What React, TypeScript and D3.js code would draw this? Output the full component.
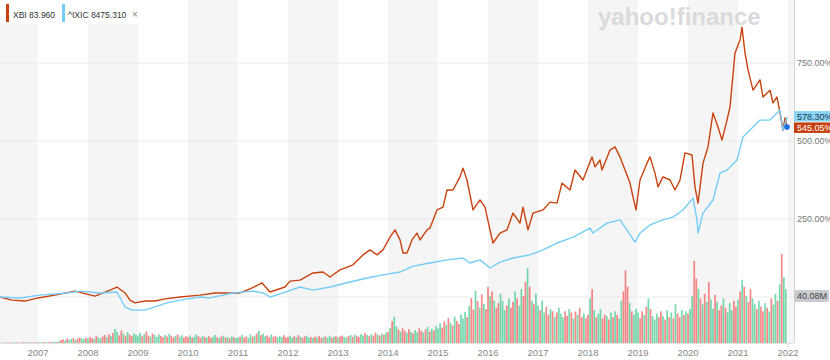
import React from 'react';
import * as d3 from 'd3';

// ---- Data ----
const xbiYears = [2006.24,2006.48,2006.74,2007.00,2007.34,2007.74,2008.14,2008.44,2008.58,2008.74,2008.84,2008.94,2009.14,2009.34,2009.54,2009.84,2010.24,2010.54,2011.04,2011.24,2011.48,2011.64,2011.94,2012.04,2012.24,2012.50,2012.70,2012.84,2013.04,2013.30,2013.50,2013.64,2013.78,2013.90,2014.04,2014.14,2014.24,2014.30,2014.38,2014.48,2014.58,2014.64,2014.78,2014.84,2014.98,2015.10,2015.18,2015.30,2015.44,2015.50,2015.58,2015.70,2015.84,2015.94,2016.04,2016.10,2016.24,2016.38,2016.50,2016.64,2016.70,2016.80,2016.90,2017.10,2017.24,2017.38,2017.48,2017.64,2017.74,2017.90,2018.08,2018.14,2018.24,2018.28,2018.44,2018.54,2018.64,2018.74,2018.84,2018.90,2018.96,2019.04,2019.18,2019.24,2019.34,2019.40,2019.50,2019.64,2019.74,2019.84,2019.94,2020.08,2020.14,2020.20,2020.30,2020.40,2020.50,2020.60,2020.68,2020.78,2020.84,2020.94,2021.04,2021.08,2021.14,2021.20,2021.30,2021.44,2021.50,2021.64,2021.70,2021.78,2021.84,2021.90,2021.94,2021.98];
const xbiPct = [0,-10,-13,-3,6,19,3,22,32,13,-10,-19,-13,-13,-6,0,6,13,13,26,45,16,32,51,54,77,80,64,87,103,135,151,135,151,192,215,183,141,141,183,205,183,215,221,279,288,343,343,385,413,375,279,311,288,215,173,205,215,269,237,288,215,269,279,304,301,365,343,407,375,449,417,439,407,471,481,449,407,365,321,279,375,429,449,397,353,385,375,343,375,462,455,353,301,429,481,590,545,503,567,609,782,824,865,782,728,663,696,641,663,622,641,590,535,574,545];

const ixicYears = [2006.24,2006.64,2007.04,2007.58,2007.84,2008.24,2008.58,2008.74,2008.88,2009.14,2009.58,2009.84,2010.24,2010.44,2010.90,2011.30,2011.50,2011.64,2011.90,2012.24,2012.50,2012.84,2013.24,2013.58,2013.90,2014.24,2014.50,2014.84,2015.18,2015.50,2015.64,2015.84,2016.04,2016.24,2016.50,2016.84,2017.10,2017.38,2017.70,2018.04,2018.10,2018.38,2018.64,2018.74,2018.94,2019.04,2019.24,2019.50,2019.70,2019.90,2020.10,2020.18,2020.20,2020.30,2020.50,2020.64,2020.78,2020.98,2021.10,2021.30,2021.44,2021.64,2021.84,2021.90,2021.98];
const ixicPct = [0,-3,6,13,19,13,16,-32,-42,-42,-19,-10,0,-3,13,19,13,0,13,32,22,32,48,61,71,80,99,109,119,125,109,119,93,112,125,135,151,173,192,221,205,237,247,224,176,205,231,247,256,279,317,247,205,269,311,397,407,439,513,545,567,567,599,535,577];

const yearTicks = [2007,2008,2009,2010,2011,2012,2013,2014,2015,2016,2017,2018,2019,2020,2021,2022];
const pctTicks = [0, 250, 500, 750];
const pctLabels = ['0.00%', '250.00%', '500.00%', '750.00%'];

const legendNames = ['XBI 83.960', '^IXIC 8475.310'];
const lastLabels = ['578.30%', '545.05%'];
const lastValues = [578.3, 545.05];
const volumeLabel = '40.08M';
const volumeLabelValue = 40.08;

// half-monthly volume bars (millions), starting April 2006
const volumeStart = 2006.25;
const volumes = [
  0.3,0.4,0.3,0.5,0.4,0.3,0.6,0.4,0.5,0.3,0.4,0.6,0.5,0.4,0.7,0.5,0.4,0.6,
  0.5,0.6,0.4,0.8,0.6,0.5,0.9,0.7,1.2,0.8,1.5,2.5,3.1,2.2,3.8,2.9,3.5,4.2,2.8,3.6,4.8,3.9,3.2,4.5,
  3.8,5.2,4.1,3.5,6.0,4.6,3.9,5.5,6.8,4.8,7.5,5.9,8.6,12.0,9.4,6.5,10.8,7.9,6.2,9.3,7.1,5.8,8.2,6.9,
  6.4,8.8,5.7,7.6,9.7,6.3,5.5,8.1,6.9,5.2,7.4,6.0,4.9,6.8,5.6,7.9,6.2,4.8,5.9,7.3,5.4,6.6,4.7,5.8,
  5.1,6.4,4.6,5.5,7.2,5.8,4.4,6.1,5.2,4.7,5.9,4.3,5.4,6.8,4.9,4.2,5.6,6.3,4.5,5.1,4.0,5.7,4.8,4.4,
  4.6,5.3,6.9,4.8,5.6,4.2,7.4,5.5,6.2,8.1,10.4,6.7,7.9,5.8,6.5,4.9,7.2,5.4,6.1,4.7,5.9,5.1,6.6,4.8,
  5.3,6.2,4.5,5.8,4.9,6.7,5.2,4.4,5.7,6.3,4.6,5.1,4.2,5.5,4.8,5.9,4.3,5.0,5.6,4.5,6.1,4.7,5.3,5.8,
  4.9,5.6,6.4,5.2,4.6,5.9,6.8,5.4,7.2,6.1,5.3,7.6,6.5,8.4,6.9,5.8,7.7,6.2,8.9,7.3,6.4,8.1,7.0,8.8,
  9.5,12.8,18.6,22.4,14.2,11.5,9.8,12.6,10.4,8.7,11.9,9.6,8.2,10.8,9.1,12.4,10.2,8.9,11.6,13.8,9.7,12.1,10.5,14.6,
  12.4,16.8,13.2,18.5,15.6,21.2,17.4,14.8,22.6,18.9,16.2,24.5,20.8,26.4,22.1,31.5,38.2,28.6,44.5,35.8,30.2,41.6,33.4,28.9,
  48,40,44,36,30,34,42,36,28,32,38,30,35,44,38,32,46,40,52,64,48,36,33,42,
  32,28,36,26,31,24,29,27,22,26,30,25,22,27,23,29,26,21,27,24,30,22,25,21,
  24,38,46,28,22,25,29,21,24,23,20,26,22,27,24,21,36,44,62,48,34,27,24,29,
  26,21,27,24,31,38,29,23,20,25,22,27,23,20,28,22,26,21,33,25,22,28,24,27,
  25,29,40,70,55,46,38,33,42,35,52,37,29,41,35,28,32,38,30,26,34,28,36,31,
  37,44,54,48,40,35,46,38,33,29,36,31,27,34,30,27,38,33,42,36,50,76,56,46,
];
// g = up period, r = down period
const volumeDir = [
  'grgrrgggrrgrgrgrrg',
  'rggrgrrggrgrrgrggrgrrggr',
  'grrgrggrrgrgrggrrgrgrrgg',
  'ggrgrrgrgggrrgrgrrgrggrr',
  'rgrggrrgrgrrggrgrgrgrgrg',
  'grgrrggrgrgrggrrgrrgggrr',
  'rggrgrgrrggrgrgrrgrggrgr',
  'grrggrgrgrrggrgrgrrgrgrg',
  'rgrggrgrrgrgrggrrgrgrgrg',
  'ggrrgrgrgrrgggrgrrgrgrgr',
  'rgrgrrgggrgrrgrggrrgrgrg',
  'grggrrgrgrgggrrgrgrgrrgr',
  'rgrgrggrrgrgrgrggrrrgrgg',
  'grrgrgrgggrrgrgrgrgrrgrg',
  'rggrrgrgrgrggrgrrgrgggrr',
  'grgrgrrggrgrrgrgrggrgrgg',
].join('');

const XBI_COLOR = '#c9420f';
const IXIC_COLOR = '#74cdf7';
const FONT = 'Liberation Sans, Arial, Helvetica, sans-serif';

export default function App() {
  const W = 830, H = 360;
  const plotRight = 794;
  const baseY = 343;
  const x = d3.scaleLinear().domain([2007, 2022]).range([38, 788]);
  const y = d3.scaleLinear().domain([0, 750]).range([297, 63]);
  const yv = d3.scaleLinear().domain([0, volumeLabelValue * 2]).range([baseY, 249]);

  const bands: number[] = [];
  for (let yr = 2006; yr <= 2022; yr += 2) bands.push(yr);

  const line = d3.line<[number, number]>().x(d => x(d[0])).y(d => y(d[1]));
  const xbiData = xbiYears.map((t, i) => [t, xbiPct[i]] as [number, number]);
  const ixicData = ixicYears.map((t, i) => [t, ixicPct[i]] as [number, number]);
  const lastXbi = xbiData[xbiData.length - 1];

  return (
    <svg width={W} height={H} style={{ position: 'absolute', left: 0, top: 0, background: '#fff' }} fontFamily={FONT}>
      {bands.map(yr => {
        const x0 = Math.max(0, x(yr));
        const x1 = Math.min(plotRight, x(yr + 1));
        return <rect key={yr} x={x0} y={0} width={Math.max(0, x1 - x0)} height={baseY} fill="#f5f5f5" />;
      })}
      {pctTicks.map(p => (
        <line key={p} x1={0} x2={plotRight} y1={y(p)} y2={y(p)} stroke="#ebebeb" strokeWidth={1} />
      ))}
      <text x={598} y={25} fontSize={24} fontWeight="bold" fill="#dadade" fontFamily={FONT}>yahoo!finance</text>
      {volumes.map((v, i) => {
        const t = volumeStart + i / 24;
        const up = volumeDir[i] !== 'r';
        return (
          <rect key={i} x={x(t) - 0.85} y={yv(v)} width={1.7} height={baseY - yv(v)}
            fill={up ? '#3cc88a' : '#f25555'} fillOpacity={0.7} />
        );
      })}
      <line x1={0} x2={plotRight} y1={baseY + 0.5} y2={baseY + 0.5} stroke="#e3e3e3" />
      <path d={line(xbiData) || ''} fill="none" stroke={XBI_COLOR} strokeWidth={1.4} strokeLinejoin="round" />
      <path d={line(ixicData) || ''} fill="none" stroke={IXIC_COLOR} strokeWidth={1.4} strokeLinejoin="round" />
      <line x1={plotRight + 0.5} x2={plotRight + 0.5} y1={0} y2={baseY} stroke="#d6d6d6" />
      <line x1={x(2022)} x2={x(2022)} y1={baseY} y2={baseY + 4} stroke="#d6d6d6" />
      {yearTicks.map(yr => (
        <text key={yr} x={x(yr)} y={356} fontSize={9.5} fill="#888" textAnchor="middle">{yr}</text>
      ))}
      {pctTicks.map((p, i) => p > 0 ? (
        <text key={p} x={797} y={y(p) + 3.2} fontSize={9} fill="#777">{pctLabels[i]}</text>
      ) : null)}
      {/* volume label */}
      <rect x={794} y={yv(volumeLabelValue) - 6} width={35} height={12} rx={2} fill="#c9cbd0" />
      <text x={797} y={yv(volumeLabelValue) + 3.2} fontSize={9} fill="#444">{volumeLabel}</text>
      {/* last value labels */}
      <rect x={794} y={y(lastValues[0]) - 5.5} width={36} height={10.5} fill="#8ad3f7" />
      <text x={797} y={y(lastValues[0]) + 3.2} fontSize={9} fill="#1f3b4d">{lastLabels[0]}</text>
      <rect x={794} y={y(lastValues[1]) - 4.5} width={36} height={10.5} fill="#c73f0e" />
      <text x={797} y={y(lastValues[1]) + 4} fontSize={9} fill="#fff">{lastLabels[1]}</text>
      <circle cx={x(lastXbi[0])} cy={y(lastXbi[1])} r={2.8} fill="#1a6fe6" />
      {/* legend */}
      <rect x={0} y={0} width={57} height={24} fill="#fff" />
      <rect x={61} y={0} width={77} height={24} fill="#fff" />
      <rect x={6} y={4} width={3} height={18} fill={XBI_COLOR} />
      <text x={13} y={18} fontSize={8.5} fill="#333">{legendNames[0]}</text>
      <rect x={62} y={4} width={3} height={18} fill={IXIC_COLOR} />
      <text x={68} y={18} fontSize={8.5} fill="#333">{legendNames[1]}</text>
      <text x={132} y={18} fontSize={10} fill="#888">×</text>
    </svg>
  );
}
